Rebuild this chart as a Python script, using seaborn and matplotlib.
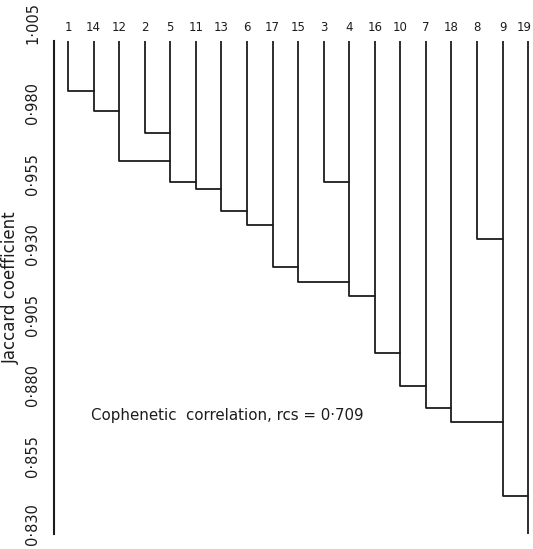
import matplotlib
matplotlib.use("Agg")
import matplotlib.pyplot as plt
import matplotlib.transforms as mtransforms
import seaborn as sns
import pandas as pd

# ---------------- data ----------------
leaves = ["1", "14", "12", "2", "5", "11", "13", "6", "17", "15",
          "3", "4", "16", "10", "7", "18", "8", "9", "19"]

# merges: new cluster id, left child, right child, Jaccard level
merge_ids = ["C1", "C2", "C3", "C4", "C5", "C6", "C7", "C8", "C9",
             "C10", "C11", "C12", "C13", "C14", "C15", "C16", "C17", "C18"]
merge_left = ["1", "C1", "2", "C2", "C4", "3", "C5", "C7", "C8",
              "8", "C9", "C11", "C12", "C13", "C14", "C15", "C16", "C17"]
merge_right = ["14", "12", "5", "C3", "11", "4", "13", "6", "17",
               "9", "15", "C6", "16", "10", "7", "18", "C10", "19"]
merge_height = [0.9874, 0.9800, 0.9724, 0.9625, 0.9550, 0.9550, 0.9523, 0.9447, 0.9397,
                0.9347, 0.9247, 0.9196, 0.9144, 0.8943, 0.8825, 0.8748, 0.8699, 0.8434]

y_ticks = [1.005, 0.980, 0.955, 0.930, 0.905, 0.880, 0.855, 0.830]
y_tick_labels = ["1·005", "0·980", "0·955", "0·930", "0·905", "0·880", "0·855", "0·830"]

annotation = "Cophenetic  correlation, rcs = 0·709"

# ------------- build dendrogram segments -------------
TOP = 1.005
BOTTOM = 0.830
stem_x = {lab: i for i, lab in enumerate(leaves)}
top_y = {lab: TOP for lab in leaves}
rows = []
seg = 0
for cid, a, b, h in zip(merge_ids, merge_left, merge_right, merge_height):
    xa, xb = stem_x[a], stem_x[b]
    for (x, y) in [(xa, top_y[a]), (xa, h), (xb, h), (xb, top_y[b])]:
        rows.append({"x": x, "y": y, "seg": seg, "order": len(rows)})
    seg += 1
    stem_x[cid] = xb
    top_y[cid] = h
root = merge_ids[-1]
for (x, y) in [(stem_x[root], top_y[root]), (stem_x[root], BOTTOM)]:
    rows.append({"x": x, "y": y, "seg": seg, "order": len(rows)})
segs = pd.DataFrame(rows)

# ---------------- plot ----------------
sns.set_style("white")
plt.rcParams["font.family"] = ["DejaVu Sans"]
INK = "#1c1c1c"

W, H = 533, 549
fig = plt.figure(figsize=(W / 100, H / 100), dpi=100)
ax = fig.add_axes([54 / W, 1 - 534 / H, (W - 54) / W, (534 - 41) / H])

sns.lineplot(data=segs, x="x", y="y", units="seg", estimator=None, sort=False,
             color=INK, linewidth=1.3, ax=ax, legend=False)

ax.set_xlim(-0.548, 18.19)
ax.set_ylim(BOTTOM, TOP)

for s in ["top", "right", "bottom"]:
    ax.spines[s].set_visible(False)
ax.spines["left"].set_color(INK)
ax.spines["left"].set_linewidth(1.5)

# leaf labels on top
ax.xaxis.tick_top()
ax.set_xticks(range(len(leaves)))
ax.set_xticklabels(leaves, fontsize=8.5, color=INK)
ax.tick_params(axis="x", length=0, pad=5)
ax.set_xlabel("")
xlabs = ax.get_xticklabels()
xlabs[-1].set_transform(xlabs[-1].get_transform() +
                        mtransforms.ScaledTranslation(-4 / 100, 0, fig.dpi_scale_trans))

# y axis
ax.set_yticks(y_ticks)
ax.set_yticklabels(y_tick_labels, rotation=90, va="center", fontsize=10.5, color=INK)
ax.tick_params(axis="y", direction="inout", length=8, width=1.5, color=INK, pad=6)
offsets = [18, 8, 8, 8, 8, 8, 8, 10]
for lab, dy in zip(ax.get_yticklabels(), offsets):
    lab.set_transform(lab.get_transform() +
                      mtransforms.ScaledTranslation(0, dy / 100, fig.dpi_scale_trans))

ax.set_ylabel("Jaccard coefficient", fontsize=12, color=INK)
ax.yaxis.set_label_coords(-0.072, 0.5)

ax.text(0.9, 0.8721, annotation, fontsize=10.8, color=INK, ha="left", va="center")

fig.savefig("out.png", dpi=100)
